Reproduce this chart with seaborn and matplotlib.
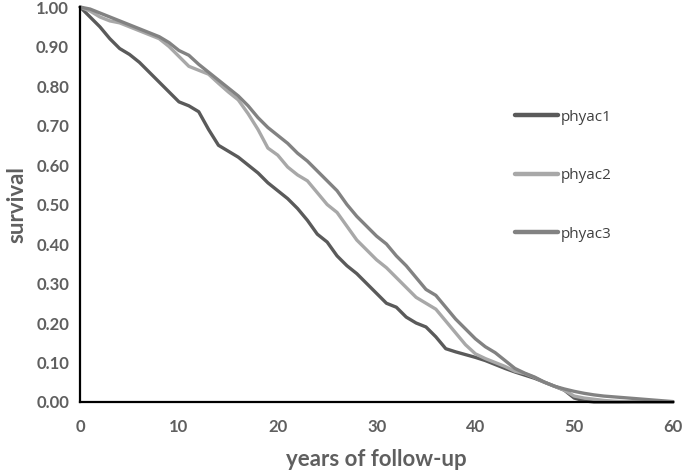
import pandas as pd
import matplotlib
matplotlib.use("Agg")
import matplotlib.pyplot as plt
import seaborn as sns

years = list(range(0, 61))

phyac1 = [1.00, 0.975, 0.95, 0.92, 0.895, 0.88, 0.86, 0.835, 0.81, 0.785,
          0.76, 0.75, 0.735, 0.69, 0.65, 0.635, 0.62, 0.60, 0.58, 0.555,
          0.535, 0.515, 0.49, 0.46, 0.425, 0.405, 0.37, 0.345, 0.325, 0.30,
          0.275, 0.25, 0.24, 0.215, 0.20, 0.19, 0.165, 0.135, 0.127, 0.12,
          0.113, 0.105, 0.095, 0.085, 0.076, 0.068, 0.06, 0.05, 0.04, 0.03,
          0.01, 0.003, 0.0, 0.0, 0.0, 0.0, 0.0, 0.0, 0.0, 0.0, 0.0]

phyac2 = [1.00, 0.99, 0.975, 0.965, 0.96, 0.95, 0.94, 0.93, 0.92, 0.90,
          0.875, 0.85, 0.84, 0.83, 0.807, 0.785, 0.765, 0.73, 0.69, 0.643,
          0.625, 0.595, 0.575, 0.56, 0.53, 0.50, 0.48, 0.445, 0.41, 0.385,
          0.36, 0.34, 0.315, 0.29, 0.265, 0.25, 0.235, 0.205, 0.175, 0.145,
          0.122, 0.11, 0.10, 0.09, 0.078, 0.072, 0.062, 0.05, 0.04, 0.03,
          0.015, 0.01, 0.007, 0.004, 0.002, 0.001, 0.0, 0.0, 0.0, 0.0, 0.0]

phyac3 = [1.00, 0.995, 0.985, 0.975, 0.965, 0.955, 0.945, 0.935, 0.925, 0.91,
          0.89, 0.878, 0.855, 0.835, 0.815, 0.795, 0.775, 0.75, 0.72, 0.695,
          0.675, 0.655, 0.63, 0.61, 0.585, 0.56, 0.535, 0.50, 0.47, 0.445,
          0.42, 0.40, 0.37, 0.345, 0.315, 0.285, 0.27, 0.24, 0.21, 0.185,
          0.16, 0.14, 0.125, 0.105, 0.085, 0.073, 0.063, 0.05, 0.04, 0.033,
          0.027, 0.022, 0.018, 0.015, 0.013, 0.011, 0.009, 0.007, 0.005, 0.003, 0.001]

groups = ['phyac1', 'phyac2', 'phyac3']
colors = {'phyac1': '#5a5a5a', 'phyac2': '#a8a8a8', 'phyac3': '#828282'}

df = pd.concat([
    pd.DataFrame({'years': years, 'survival': vals, 'group': name})
    for name, vals in zip(groups, [phyac1, phyac2, phyac3])
])

sns.set_style('white')
plt.rcParams['font.family'] = ['Lato', 'DejaVu Sans']

fig, ax = plt.subplots(figsize=(6.85, 4.71), dpi=100)
fig.subplots_adjust(left=0.117, right=0.9825, top=0.985, bottom=0.1465)

sns.lineplot(data=df, x='years', y='survival', hue='group', hue_order=groups,
             palette=colors, linewidth=2.4, ax=ax, clip_on=False,
             solid_capstyle='round')

ax.set_xlim(0, 60)
ax.set_ylim(0, 1)
ax.set_xticks(range(0, 61, 10))
ax.set_yticks([i / 10 for i in range(11)])
ax.set_yticklabels([f'{i / 10:.2f}' for i in range(11)])

for side in ['top', 'right']:
    ax.spines[side].set_visible(False)
for side in ['left', 'bottom']:
    ax.spines[side].set_color('black')
    ax.spines[side].set_linewidth(1.6)

ax.tick_params(axis='both', direction='out', length=4, width=1.6, color='black',
               labelsize=12, labelcolor='#5f5f5f', pad=4)
ax.tick_params(axis='x', pad=8)
for lbl in ax.get_xticklabels() + ax.get_yticklabels():
    lbl.set_fontweight('bold')

ax.set_xlabel('years of follow-up', fontsize=16, color='#5f5f5f',
              fontweight='bold', labelpad=10)
ax.set_ylabel('survival', fontsize=16, color='#5f5f5f',
              fontweight='bold', labelpad=6)

leg = ax.legend(loc='upper left', bbox_to_anchor=(0.71, 0.775), frameon=False,
                labelspacing=2.85, handlelength=2.8, handletextpad=0.2,
                prop={'family': 'Open Sans', 'size': 11})
for line in leg.get_lines():
    line.set_linewidth(3.2)
for txt in leg.get_texts():
    txt.set_color('#404040')

fig.savefig('out.png', dpi=100)
